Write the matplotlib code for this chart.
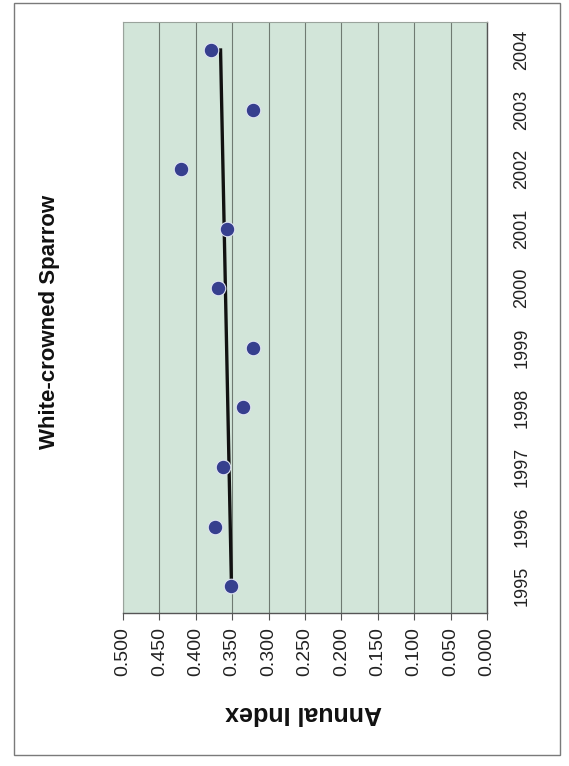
import matplotlib

matplotlib.use("Agg")
import matplotlib.pyplot as plt
from matplotlib.patches import Rectangle

plt.rcParams["font.family"] = ["Liberation Sans", "DejaVu Sans"]

# Chart is an Excel scatter rotated 90 degrees: years run up the page,
# the annual index runs right-to-left along the bottom.
years = [1995, 1996, 1997, 1998, 1999, 2000, 2001, 2002, 2003, 2004]
annual_index = [0.351, 0.373, 0.362, 0.335, 0.321, 0.370, 0.357, 0.421, 0.322, 0.379]
trend_years = [1995, 2004]
trend_index = [0.351, 0.366]
value_ticks = [0.0, 0.05, 0.1, 0.15, 0.2, 0.25, 0.3, 0.35, 0.4, 0.45, 0.5]

W, H = 569, 766
fig = plt.figure(figsize=(W / 100, H / 100), dpi=100)
fig.patch.set_facecolor("white")

# outer chart-area border
fig.patches.append(Rectangle((14 / W, 1 - 755 / H), (560 - 14) / W, (755 - 3) / H,
                             transform=fig.transFigure, fill=False,
                             edgecolor="#7a7a7a", linewidth=1.0))

ax = fig.add_axes([123 / W, 1 - 613 / H, (487 - 123) / W, (613 - 22) / H])
ax.set_facecolor("#d2e5d9")

ax.plot(trend_index, trend_years, color="#111111", linewidth=2.4, zorder=3)
ax.scatter(annual_index, years, s=110, color="#363f8e", edgecolors="#dfe3f2",
           linewidths=0.8, zorder=4)

ax.set_xlim(0.5, 0.0)
ax.set_ylim(1994.55, 2004.47)
ax.set_xticks(value_ticks)
ax.set_xticklabels([f"{v:.3f}" for v in value_ticks], rotation=90, fontsize=14,
                   color="#222222")
ax.set_yticks(years)
ax.set_yticklabels([str(y) for y in years], rotation=90, fontsize=13,
                   va="center", color="#222222")
ax.yaxis.tick_right()
ax.tick_params(axis="y", length=0, pad=19)
ax.tick_params(axis="x", length=5, width=0.8, color="#555555", pad=5)
ax.grid(axis="x", color="#6f7a72", linewidth=0.8)
ax.set_axisbelow(True)

for side in ("top", "left"):
    ax.spines[side].set_color("#9aa39c")
    ax.spines[side].set_linewidth(0.8)
for side in ("bottom", "right"):
    ax.spines[side].set_color("#555555")
    ax.spines[side].set_linewidth(1.0)

fig.text(50 / W, 1 - 322 / H, "White-crowned Sparrow", rotation=90,
         fontsize=16, fontweight="bold", ha="center", va="center", color="#111111")
fig.text(304 / W, 1 - 713 / H, "Annual Index", rotation=180,
         fontsize=18, fontweight="bold", ha="center", va="center", color="#111111")

fig.savefig("out.png", dpi=100)
